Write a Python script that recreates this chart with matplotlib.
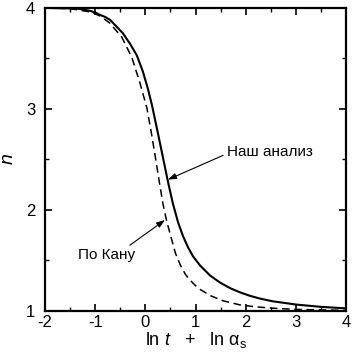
import matplotlib
matplotlib.use("Agg")
import matplotlib.pyplot as plt
from matplotlib.ticker import MultipleLocator

plt.rcParams['font.family'] = ['Liberation Sans', 'DejaVu Sans']
plt.rcParams['mathtext.fontset'] = 'custom'
plt.rcParams['mathtext.rm'] = 'Liberation Sans'
plt.rcParams['mathtext.it'] = 'Liberation Sans:italic'

# Solid curve ("Наш анализ")
x_solid = [-2.0, -1.5, -1.3, -1.1, -1.0, -0.9, -0.8, -0.7, -0.45, -0.3, -0.17, -0.05,
           0.05, 0.13, 0.25, 0.35, 0.45, 0.55, 0.65, 0.75, 0.85, 0.95, 1.09, 1.29,
           1.49, 1.69, 1.88, 2.08, 2.3, 2.54, 3.0, 3.5, 4.0]
n_solid = [4.0, 3.995, 3.99, 3.97, 3.955, 3.93, 3.91, 3.88, 3.75, 3.64, 3.53, 3.37,
           3.20, 3.04, 2.76, 2.52, 2.28, 2.06, 1.88, 1.74, 1.63, 1.54, 1.45, 1.35,
           1.28, 1.225, 1.185, 1.15, 1.12, 1.095, 1.063, 1.04, 1.025]

# Dashed curve ("По Кану")
x_dash = [-2.0, -1.5, -1.1, -0.9, -0.71, -0.47, -0.27, -0.11, 0.03, 0.12, 0.2, 0.28,
          0.35, 0.42, 0.5, 0.6, 0.7, 0.8, 0.9, 1.0, 1.1, 1.3, 1.55, 1.88, 2.2, 2.6,
          3.0, 3.5, 4.0]
n_dash = [4.0, 3.993, 3.96, 3.92, 3.85, 3.71, 3.51, 3.26, 3.01, 2.76, 2.52, 2.27,
          2.06, 1.90, 1.75, 1.57, 1.45, 1.36, 1.30, 1.25, 1.21, 1.15, 1.10, 1.06, 1.04,
          1.025, 1.015, 1.01, 1.005]

x_ticks = [-2, -1, 0, 1, 2, 3, 4]
y_ticks = [1, 2, 3, 4]

fig = plt.figure(figsize=(3.52, 3.59), dpi=100)
ax = fig.add_axes([0.128, 0.134, 0.855, 0.844])

ax.plot(x_solid, n_solid, color='black', lw=1.5, solid_joinstyle='round')
ax.plot(x_dash, n_dash, color='black', lw=1.1, dashes=(5, 3))

ax.set_xlim(-2, 4)
ax.set_ylim(1, 4)
ax.set_xticks(x_ticks)
ax.set_yticks(y_ticks)
ax.set_xticklabels([str(v) for v in x_ticks])
ax.set_yticklabels([str(v) for v in y_ticks])
ax.xaxis.set_minor_locator(MultipleLocator(0.5))
ax.yaxis.set_minor_locator(MultipleLocator(0.5))
ax.tick_params(which='both', direction='in', top=True, right=True, labelsize=12)
ax.tick_params(axis='x', pad=3)
ax.tick_params(axis='y', pad=7)
ax.tick_params(which='major', length=5, width=1.2)
ax.tick_params(which='minor', length=3, width=1.0)
for s in ax.spines.values():
    s.set_linewidth(1.6)

ax.set_xlabel(r'ln $\mathit{t}$   +   ln α$_{\mathregular{s}}$', fontsize=13, labelpad=0)
ax.set_ylabel(r'$\mathit{n}$', fontsize=14, va='center')
ax.yaxis.set_label_coords(-0.12, 0.5)

arrow = dict(arrowstyle='-|>,head_length=0.5,head_width=0.18', color='black', lw=0.8,
             shrinkA=0, shrinkB=0)
ax.text(1.62, 2.57, 'Наш анализ', fontsize=11, ha='left', va='center')
ax.annotate('', xy=(0.45, 2.30), xytext=(1.55, 2.54), arrowprops=arrow)
ax.text(-1.34, 1.55, 'По Кану', fontsize=11, ha='left', va='center')
ax.annotate('', xy=(0.39, 1.90), xytext=(-0.31, 1.65), arrowprops=arrow)

fig.savefig('out.png', dpi=100)
